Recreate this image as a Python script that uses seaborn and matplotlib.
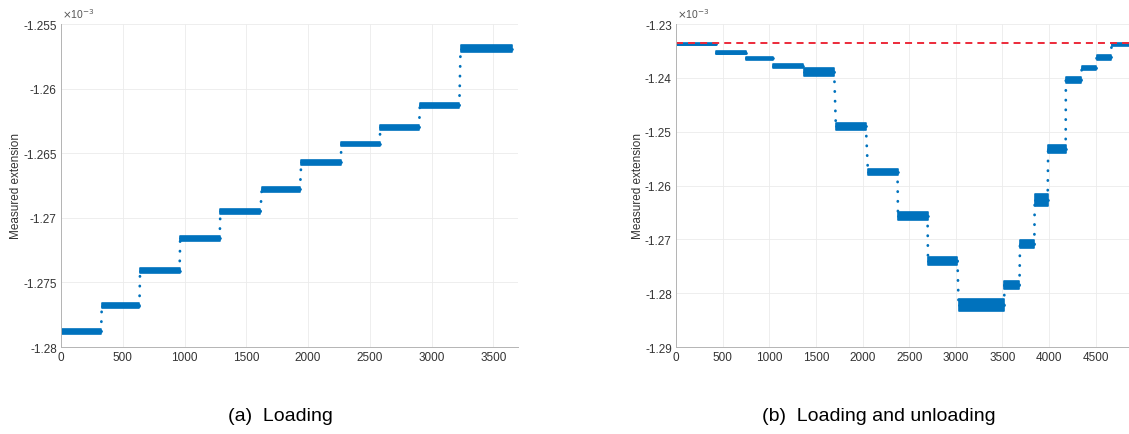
import matplotlib
matplotlib.use("Agg")
import matplotlib.pyplot as plt
import seaborn as sns
import pandas as pd

# plateau data (values in units of 1e-3)
load_start = [0, 330, 640, 965, 1290, 1625, 1945, 2270, 2585, 2905, 3235]
load_end = [325, 635, 960, 1285, 1615, 1935, 2265, 2580, 2900, 3225, 3650]
load_level = [-1.2788, -1.2768, -1.2741, -1.2716, -1.2695, -1.2678,
              -1.2657, -1.2643, -1.2630, -1.2613, -1.2569]
load_spread = [0.0002, 0.0002, 0.00018, 0.00018, 0.00018, 0.00018,
               0.00018, 0.00018, 0.00018, 0.0002, 0.00025]

cycle_start = [0, 432, 752, 1040, 1375, 1714, 2058, 2380, 2702, 3030,
               3522, 3688, 3846, 3990, 4180, 4350, 4510, 4670]
cycle_end = [428, 748, 1036, 1357, 1696, 2036, 2375, 2697, 3018, 3518,
             3683, 3842, 3985, 4178, 4345, 4505, 4665, 4900]
cycle_level = [-1.2337, -1.2353, -1.2364, -1.2378, -1.2389, -1.2490,
               -1.2575, -1.2657, -1.2740, -1.2822, -1.2785, -1.2709,
               -1.2627, -1.2532, -1.2404, -1.2382, -1.2362, -1.2338]
cycle_spread = [0.0002, 0.0002, 0.0003, 0.0003, 0.0008, 0.0006,
                0.0006, 0.0007, 0.0008, 0.0011, 0.0008, 0.0008,
                0.0012, 0.0008, 0.0005, 0.0004, 0.0004, 0.0003]
reference_level = -1.2336

load_yticks = [-1.28, -1.275, -1.27, -1.265, -1.26, -1.255]
load_xticks = [0, 500, 1000, 1500, 2000, 2500, 3000, 3500]
cycle_yticks = [-1.29, -1.28, -1.27, -1.26, -1.25, -1.24, -1.23]
cycle_xticks = [0, 500, 1000, 1500, 2000, 2500, 3000, 3500, 4000, 4500]

captions = ["(a)  Loading", "(b)  Loading and unloading"]

BLUE = "#0072BD"
TEXT = "#333333"

sns.set_style("whitegrid", {"grid.color": "#ebebeb", "axes.edgecolor": "#b4b4b4"})
plt.rcParams["font.family"] = ["Liberation Sans", "DejaVu Sans"]


def plateau_frame(starts, ends, levels, spreads):
    rows = []
    for i, (s, e, lv, sp) in enumerate(zip(starts, ends, levels, spreads)):
        for t in (s, e):
            rows.append({"t": t, "v": lv - sp, "seg": i})
            rows.append({"t": t, "v": lv + sp, "seg": i})
    return pd.DataFrame(rows)


def jump_frame(starts, ends, levels):
    rows = []
    for i in range(len(starts) - 1):
        rows.append({"t": ends[i], "v": levels[i], "seg": i})
        rows.append({"t": starts[i + 1], "v": levels[i + 1], "seg": i})
    return pd.DataFrame(rows)


def draw_panel(ax, starts, ends, levels, spreads, xlim, ylim, xticks, yticks):
    jumps = jump_frame(starts, ends, levels)
    sns.lineplot(data=jumps, x="t", y="v", units="seg", estimator=None,
                 color=BLUE, linewidth=2.0, linestyle=(0, (0.1, 3.4)),
                 dash_capstyle="round", ax=ax)
    df = plateau_frame(starts, ends, levels, spreads)
    sns.lineplot(data=df, x="t", y="v", hue="seg", palette=[BLUE] * len(starts),
                 errorbar=lambda v: (v.min(), v.max()),
                 err_kws={"alpha": 1, "linewidth": 1.2, "edgecolor": BLUE},
                 linewidth=2.0, legend=False, ax=ax)
    ax.set_xlim(*xlim)
    ax.set_ylim(*ylim)
    ax.set_xticks(xticks)
    ax.set_yticks(yticks)
    ax.set_xticklabels([f"{x:g}" for x in xticks])
    ax.set_yticklabels([f"{y:g}" for y in yticks])
    ax.tick_params(labelsize=8.5, colors=TEXT, length=0, pad=3)
    for side in ("top", "right"):
        ax.spines[side].set_visible(False)
    for side in ("left", "bottom"):
        ax.spines[side].set_linewidth(0.7)
    ax.grid(True, linewidth=0.6)


def label_panel(ax):
    ax.set_xlabel("")
    ax.set_ylabel("Measured extension", fontsize=8.5, color=TEXT, labelpad=1)
    ax.text(0.003, 1.012, r"$\times$10$^{-3}$", transform=ax.transAxes,
            fontsize=7.5, color="#555555", ha="left", va="bottom")


fig = plt.figure(figsize=(11.29, 4.35), dpi=100)
ax1 = fig.add_axes([61 / 1129, 87 / 435, 457 / 1129, 323 / 435])
ax2 = fig.add_axes([676 / 1129, 87 / 435, 457 / 1129, 323 / 435])

draw_panel(ax1, load_start, load_end, load_level, load_spread,
           (0, 3700), (-1.28, -1.255), load_xticks, load_yticks)
draw_panel(ax2, cycle_start, cycle_end, cycle_level, cycle_spread,
           (0, 4900), (-1.29, -1.23), cycle_xticks, cycle_yticks)

ref = pd.DataFrame({"t": [0, 4900], "v": [reference_level, reference_level]})
sns.lineplot(data=ref, x="t", y="v", color="#ec2a3a", linewidth=1.4,
             linestyle=(0, (3.6, 2.6)), ax=ax2)

label_panel(ax1)
label_panel(ax2)

fig.text(280 / 1129, 1 - 417 / 435, captions[0], fontsize=14, color="black",
         ha="center", va="center")
fig.text(879 / 1129, 1 - 417 / 435, captions[1], fontsize=14, color="black",
         ha="center", va="center")

fig.savefig("out.png", dpi=100)
